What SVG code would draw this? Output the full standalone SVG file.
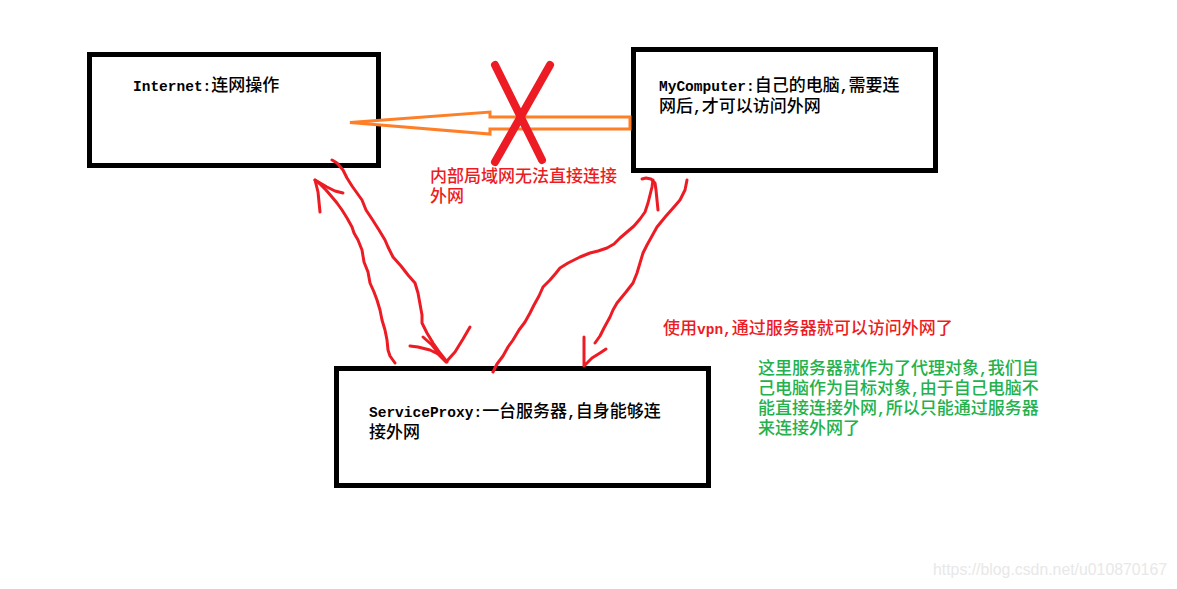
<svg xmlns="http://www.w3.org/2000/svg" width="1177" height="589" viewBox="0 0 1177 589">
<style>
.box{fill:#fff;stroke:#000;stroke-width:5}
.t{font-family:"Liberation Mono","Noto Sans CJK SC",monospace;font-size:17px;font-weight:500}
.lat{font-size:14.5px;font-weight:bold}
.blk{fill:#000}
.red{fill:#ED1C24}
.grn{fill:#22B14C}
.hand{fill:none;stroke:#ED1C24;stroke-width:3;stroke-linecap:round;stroke-linejoin:round}
.wm{font-family:"Liberation Sans",Arial,sans-serif;font-size:16px;fill:#e8e8e8}
</style>
<rect width="1177" height="589" fill="#fff"/>
<g id="internet">
<rect class="box" x="89.5" y="54.5" width="289" height="111"/>
<text class="t blk" x="133" y="91"><tspan class="lat">Internet:</tspan>连网操作</text>
</g>
<g id="mycomputer">
<rect class="box" x="633.5" y="49.5" width="302" height="121"/>
<text class="t blk" x="659" y="91"><tspan class="lat">MyComputer:</tspan>自己的电脑<tspan class="lat">,</tspan>需要连</text>
<text class="t blk" x="659" y="112">网后<tspan class="lat">,</tspan>才可以访问外网</text>
</g>
<g id="serviceproxy">
<rect class="box" x="336.5" y="368.5" width="372" height="117"/>
<text class="t blk" x="369" y="417"><tspan class="lat">ServiceProxy:</tspan>一台服务器<tspan class="lat">,</tspan>自身能够连</text>
<text class="t blk" x="369" y="438">接外网</text>
</g>
<g id="connectors">
<polygon points="630,117 490,117 490,112 350,122.5 490,134 490,129 630,129" fill="#fff" stroke="#FF7F27" stroke-width="3" stroke-linejoin="miter"/>
<path class="hand" d="M332,160 L337,163 L343,170 L347,178 L352,186 L357,193 L362,200 L366,210 L372,219 L379,230 L385,240 L388,247 L393,257 L401,266 L408,275 L415,283 L418,293 L420,304 L422,315 L422,323 L427,333 L433,343 L440,353 L447,362"/>
<path class="hand" d="M410,346 L418,347 L430,350 L438,354 L446,362 L455,352 L463,339 L470,327 M423,337 L432,345 L440,355"/>
<path class="hand" d="M395,363 L390,356 L388,350 L387,340 L385,330 L382,320 L380,310 L377,300 L374,292 L370,283 L368,272 L364,262 L362,250 L358,240 L354,233 L352,227 L347,218 L342,210 L337,203 L332,197 L326,190 L320,184 L315,180"/>
<path class="hand" d="M343,193 L335,191 L327,187 L315,180 L318,192 L319,202 L320,212"/>
<path class="hand" d="M493,372 L497,364 L503,356 L508,347 L513,340 L519,330 L525,322 L530,313 L534,305 L539,296 L543,287 L550,280 L556,273 L560,268 L568,263 L574,260 L580,257 L590,253 L598,251 L607,248 L614,244 L620,238 L627,232 L634,226 L640,219 L645,212 L648,203 L650,195 L652,187 L653,180"/>
<path class="hand" d="M642,179 L646,178 L651,179 L655,183 L656,190 L657,200 L658,210"/>
<path class="hand" d="M687,180 L685,190 L680,200 L674,207 L666,216 L657,227 L652,236 L647,245 L643,253 L640,263 L637,273 L633,283 L626,292 L617,303 L613,310 L610,317 L604,328 L600,336 L595,343"/>
<path class="hand" d="M584,337 L584,352 L584,366 L592,358 L600,353 L606,349"/>
</g>
<g id="notes">
<path d="M495,65 L542,160 M550,65 L495,162" fill="none" stroke="#ED1C24" stroke-width="8" stroke-linecap="round"/>
<text class="t red" x="430" y="182">内部局域网无法直接连接</text>
<text class="t red" x="430" y="202">外网</text>
<text class="t red" x="663" y="334">使用<tspan class="lat">vpn,</tspan>通过服务器就可以访问外网了</text>
<text class="t grn" x="758" y="374">这里服务器就作为了代理对象<tspan class="lat">,</tspan>我们自</text>
<text class="t grn" x="758" y="394">己电脑作为目标对象<tspan class="lat">,</tspan>由于自己电脑不</text>
<text class="t grn" x="758" y="414">能直接连接外网<tspan class="lat">,</tspan>所以只能通过服务器</text>
<text class="t grn" x="758" y="434">来连接外网了</text>
<text class="wm" x="933" y="575" textLength="234" lengthAdjust="spacingAndGlyphs">https://blog.csdn.net/u010870167</text>
</g>
</svg>
